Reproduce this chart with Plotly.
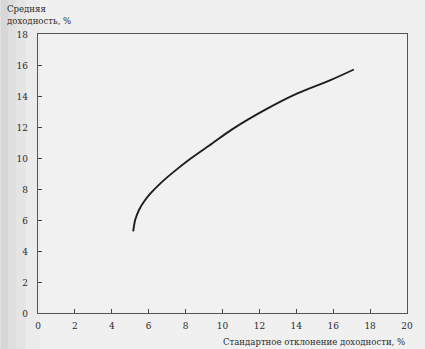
import plotly.graph_objects as go

# Efficient frontier: standard deviation (%) vs mean return (%)
std_dev = [5.16, 5.27, 5.48, 5.75, 6.11, 6.65, 7.37, 8.26, 9.42, 10.5, 12.3, 14.09, 15.88, 17.12]
mean_ret = [5.26, 6.01, 6.66, 7.19, 7.73, 8.38, 9.12, 9.95, 10.92, 11.83, 13.1, 14.18, 15.04, 15.71]

x_ticks = [0, 2, 4, 6, 8, 10, 12, 14, 16, 18, 20]
y_ticks = [0, 2, 4, 6, 8, 10, 12, 14, 16, 18]

y_title_lines = ["Средняя", "доходность, %"]
x_title = "Стандартное отклонение доходности, %"

serif = "DejaVu Serif Condensed, DejaVu Serif"
ink = "#2a2a2a"

fig = go.Figure()
fig.add_trace(go.Scatter(
    x=std_dev, y=mean_ret, mode="lines",
    line=dict(color="#1e1e1e", width=1.9, shape="spline", smoothing=0.9),
    hoverinfo="skip", showlegend=False,
))

axis_common = dict(
    showgrid=False, zeroline=False,
    showline=True, linecolor="#555555", linewidth=1, mirror=True,
    ticks="inside", ticklen=4, tickcolor="#444444", tickwidth=1,
    tickfont=dict(family=serif, size=10, color=ink),
)

fig.update_xaxes(range=[0, 20], tickvals=x_ticks, ticklabelstandoff=3, **axis_common)
fig.update_yaxes(range=[0, 18], tickvals=y_ticks, ticklabelstandoff=7, **axis_common)

# soft shadow along the left edge of the page (paper coords relative to plot area)
pw, ph = 373, 279
shapes = []
shade = [(0, 8, 0.10), (8, 16, 0.07), (16, 26, 0.045), (26, 40, 0.02)]
for x0, x1, op in shade:
    shapes.append(dict(type="rect", xref="paper", yref="paper",
                       x0=(x0 - 38) / pw, x1=(x1 - 38) / pw,
                       y0=-36 / ph, y1=1 + 34 / ph,
                       fillcolor="#000000", opacity=op, line=dict(width=0), layer="below"))

annotations = [
    dict(text="<br>".join(y_title_lines), xref="paper", yref="paper",
         x=-33 / pw, y=1 + 33 / ph, xanchor="left", yanchor="top", align="left",
         showarrow=False, font=dict(family=serif, size=9.5, color=ink)),
    dict(text=x_title, xref="paper", yref="paper",
         x=1, y=-21 / ph, xanchor="right", yanchor="top",
         showarrow=False, font=dict(family=serif, size=9.5, color=ink)),
]

fig.update_layout(
    width=425, height=349,
    margin=dict(l=38, r=14, t=34, b=36),
    paper_bgcolor="#f0f0f0", plot_bgcolor="#f1f1f1",
    shapes=shapes, annotations=annotations,
)

fig.write_html("out.html")
